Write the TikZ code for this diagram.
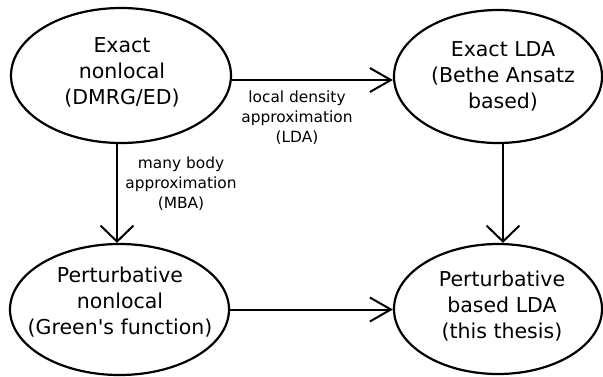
\documentclass[tikz,border=0pt]{standalone}
\usepackage{fontspec}
\setmainfont{DejaVu Sans}[Ligatures=TeXOff]
\usetikzlibrary{shapes.geometric,arrows.meta}
\tikzset{
  oval/.style={ellipse, draw, line width=2.2pt, inner sep=0pt},
  bigtext/.style={align=center, inner sep=0pt, font=\fontsize{20.5}{26}\selectfont},
  smalltext/.style={align=center, inner sep=0pt, font=\fontsize{15.4}{20}\selectfont},
  harrow/.style={line width=2pt, -{Straight Barb[length=21pt, width=24pt, line width=2pt]}},
  varrow/.style={line width=2pt, -{Straight Barb[length=16pt, width=33pt, line width=2pt]}},
}
\begin{document}
\begin{tikzpicture}[x=1pt, y=-1pt]
\useasboundingbox (0,0) rectangle (603,376);
\node[oval, minimum width=220pt, minimum height=135pt] (A) at (121,75.5) {};
\node[oval, minimum width=208pt, minimum height=133pt] (B) at (498,76.5) {};
\node[oval, minimum width=219pt, minimum height=131pt] (C) at (119.5,309.5) {};
\node[oval, minimum width=208pt, minimum height=130pt] (D) at (498,309) {};

\node[bigtext] (At) at (122,72.5) {Exact\\nonlocal\\(DMRG/ED)};
\node[bigtext] (Bt) at (503,76) {Exact LDA\\(Bethe Ansatz\\based)};
\node[bigtext] (Ct) at (120,302) {Perturbative\\nonlocal\\(Green's function)};
\node[bigtext] (Dt) at (502,306.5) {Perturbative\\based LDA\\(this thesis)};

\node[smalltext] (L1) at (297,118) {local density\\approximation\\(LDA)};
\node[smalltext] (L2) at (181,184) {many body\\approximation\\(MBA)};

\draw[harrow] ([yshift=-4.5pt]A.east) -- ([yshift=-4.5pt]A.east -| B.west);
\draw[harrow] (C.east) -- (C.east -| D.west);
\draw[varrow] ([xshift=-4pt]A.south) -- ([xshift=-4pt]A.south |- C.north);
\draw[varrow] ([xshift=5pt]B.south) -- ([xshift=5pt]B.south |- D.north);
\end{tikzpicture}
\end{document}
